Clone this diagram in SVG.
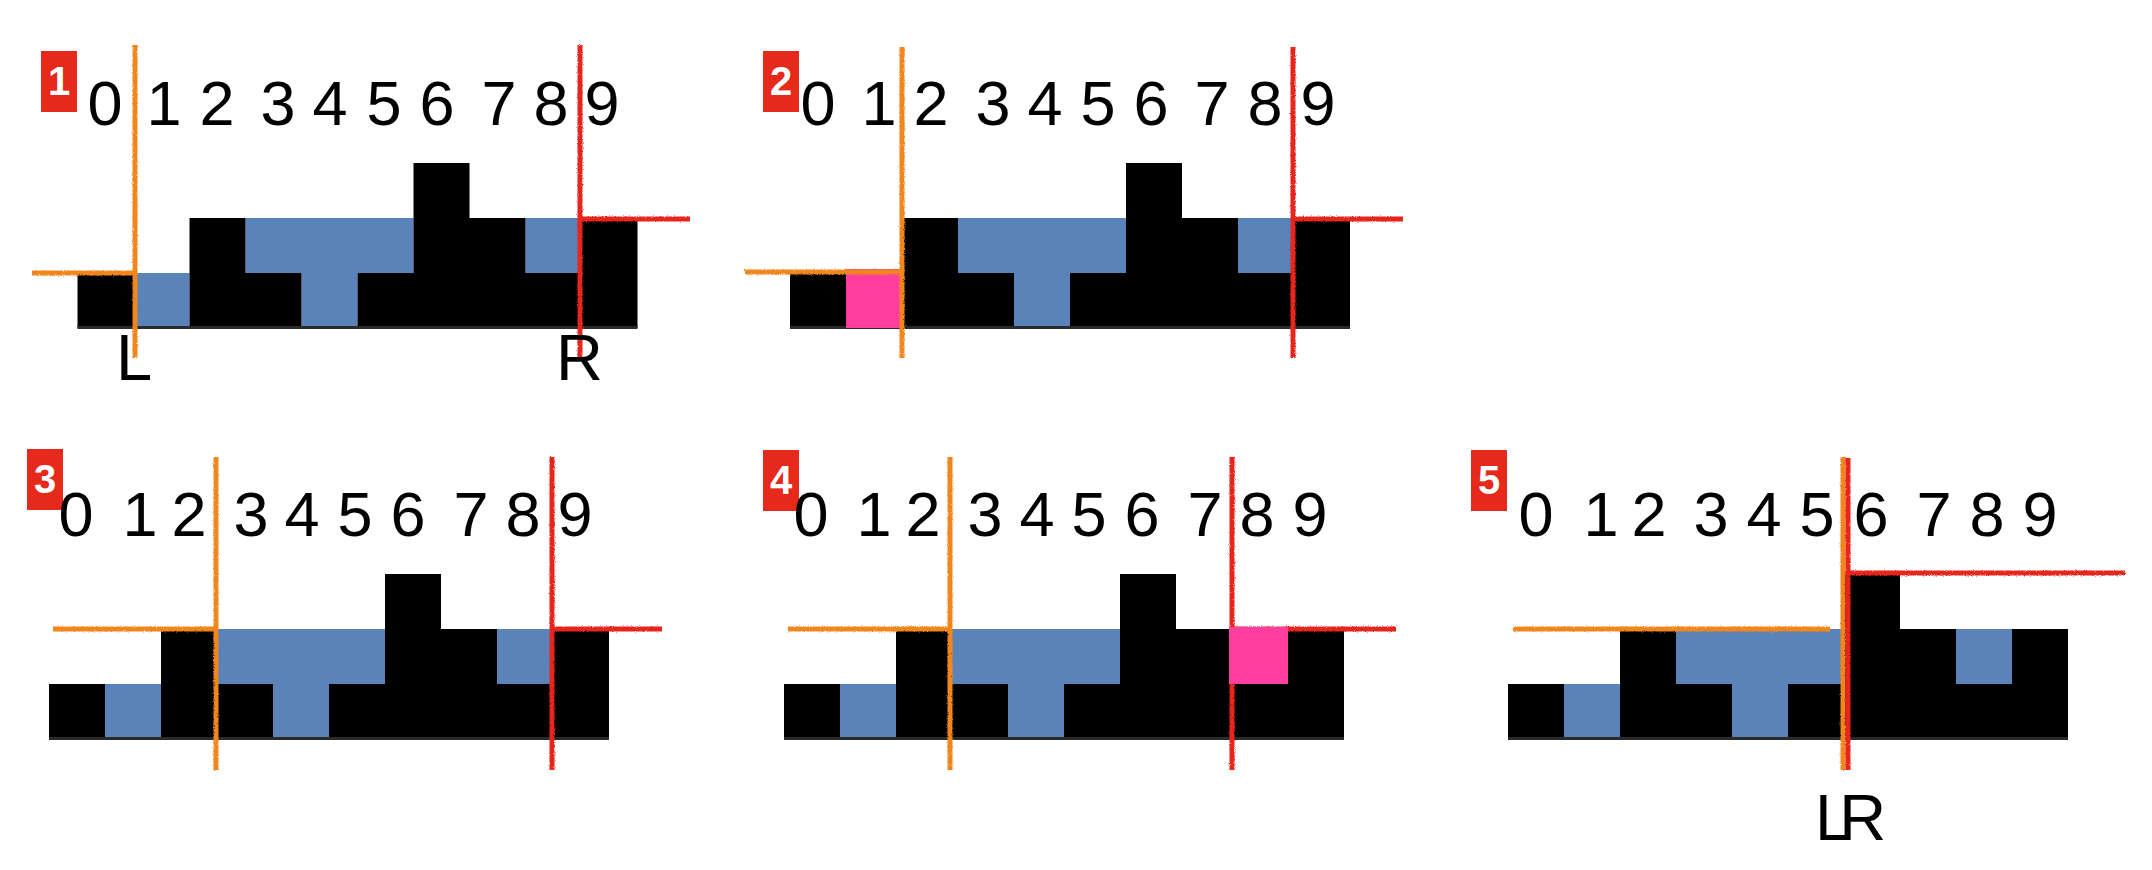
<svg xmlns="http://www.w3.org/2000/svg" width="2152" height="870" viewBox="0 0 2152 870">
<style>
.digit{font-family:"Liberation Sans",Arial,Helvetica,sans-serif;font-size:63px;fill:#000;text-anchor:middle}
.lbl{font-family:"Liberation Sans",Arial,Helvetica,sans-serif;font-size:65px;fill:#000}
.badge rect{fill:#e5291b}
.badge text{font-family:"Liberation Sans",Arial,Helvetica,sans-serif;font-weight:bold;font-size:40px;fill:#fff;text-anchor:middle}
.lp{stroke:#f0861f;stroke-width:5;fill:none;filter:url(#rough)}
.rp{stroke:#e6261f;stroke-width:5;fill:none;filter:url(#rough)}
.pink{fill:#ff3e9f}
</style>
<defs>
<filter id="rough" filterUnits="userSpaceOnUse" x="0" y="0" width="2152" height="870">
<feTurbulence type="fractalNoise" baseFrequency="0.9" numOctaves="1" result="n"/>
<feDisplacementMap in="SourceGraphic" in2="n" scale="3" xChannelSelector="R" yChannelSelector="G"/>
</filter>
<g id="bars">
<path fill="#5a84b9" d="M56,0V-55H112V0Z M168,-110H336V-55H280V0H224V-55H168Z M448,-110H504V-55H448Z"/>
<path fill="#000" d="M0,0V-55H56V0Z M112,0V-110H168V-55H224V0Z M280,0V-55H336V-165H392V-110H448V-55H504V-110H560V0Z"/>
<rect x="0" y="-2" width="560" height="3" fill="#2a2a2a"/>
</g>
</defs>
<rect width="2152" height="870" fill="#fff"/>

<g id="panel1">
<use href="#bars" transform="translate(77.5,328)"/>
<g class="badge"><rect x="41" y="51" width="36" height="61"/><text x="59" y="95">1</text></g>
<text class="digit" x="105" y="125">0</text><text class="digit" x="164" y="125">1</text><text class="digit" x="217" y="125">2</text><text class="digit" x="278" y="125">3</text><text class="digit" x="330" y="125">4</text><text class="digit" x="384" y="125">5</text><text class="digit" x="437" y="125">6</text><text class="digit" x="499" y="125">7</text><text class="digit" x="551" y="125">8</text><text class="digit" x="602" y="125">9</text>
<g id="pointers1">
<path class="lp" d="M32,273H135M135,45V358"/>
<path class="rp" d="M580,219H690M580,45V358"/>
</g>
<text class="lbl" x="116" y="380">L</text>
<text class="lbl" x="556" y="380">R</text>
</g>

<g id="panel2">
<use href="#bars" transform="translate(790,328)"/>
<rect class="pink" x="846" y="269" width="56" height="59"/>
<g class="badge"><rect x="763" y="51" width="36" height="61"/><text x="781" y="95">2</text></g>
<text class="digit" x="818" y="125">0</text><text class="digit" x="879" y="125">1</text><text class="digit" x="931" y="125">2</text><text class="digit" x="993" y="125">3</text><text class="digit" x="1045" y="125">4</text><text class="digit" x="1098" y="125">5</text><text class="digit" x="1151" y="125">6</text><text class="digit" x="1212" y="125">7</text><text class="digit" x="1265" y="125">8</text><text class="digit" x="1318" y="125">9</text>
<g id="pointers2">
<path class="lp" d="M745,272H902M902,47V358"/>
<path class="rp" d="M1293,219H1403M1293,47V358"/>
</g>
</g>

<g id="panel3">
<use href="#bars" transform="translate(49,739)"/>
<g class="badge"><rect x="27" y="449" width="36" height="61"/><text x="45" y="493">3</text></g>
<text class="digit" x="76" y="536">0</text><text class="digit" x="140" y="536">1</text><text class="digit" x="189" y="536">2</text><text class="digit" x="251" y="536">3</text><text class="digit" x="302" y="536">4</text><text class="digit" x="355" y="536">5</text><text class="digit" x="408" y="536">6</text><text class="digit" x="471" y="536">7</text><text class="digit" x="523" y="536">8</text><text class="digit" x="575" y="536">9</text>
<g id="pointers3">
<path class="lp" d="M53,629H216M216,457V770"/>
<path class="rp" d="M552,629H662M552,457V770"/>
</g>
</g>

<g id="panel4">
<use href="#bars" transform="translate(784,739)"/>
<g class="badge"><rect x="763" y="450" width="36" height="61"/><text x="781" y="494">4</text></g>
<text class="digit" x="811" y="536">0</text><text class="digit" x="874" y="536">1</text><text class="digit" x="923" y="536">2</text><text class="digit" x="985" y="536">3</text><text class="digit" x="1037" y="536">4</text><text class="digit" x="1089" y="536">5</text><text class="digit" x="1142" y="536">6</text><text class="digit" x="1205" y="536">7</text><text class="digit" x="1257" y="536">8</text><text class="digit" x="1310" y="536">9</text>
<g id="pointers4">
<path class="lp" d="M788,629H950M950,457V770"/>
<path class="rp" d="M1232,629H1396M1232,457V770"/>
</g>
<rect class="pink" x="1229" y="627" width="59" height="57"/>
</g>

<g id="panel5">
<use href="#bars" transform="translate(1508,739)"/>
<g class="badge"><rect x="1471" y="450" width="36" height="61"/><text x="1489" y="494">5</text></g>
<text class="digit" x="1536" y="536">0</text><text class="digit" x="1601" y="536">1</text><text class="digit" x="1649" y="536">2</text><text class="digit" x="1711" y="536">3</text><text class="digit" x="1764" y="536">4</text><text class="digit" x="1817" y="536">5</text><text class="digit" x="1871" y="536">6</text><text class="digit" x="1934" y="536">7</text><text class="digit" x="1987" y="536">8</text><text class="digit" x="2040" y="536">9</text>
<g id="pointers5">
<path class="lp" d="M1513,629H1830M1843,457V770"/>
<path class="rp" d="M1849,573H2125M1848,458V770"/>
</g>
<text class="lbl" x="1815" y="840" letter-spacing="-12">LR</text>
</g>
</svg>
